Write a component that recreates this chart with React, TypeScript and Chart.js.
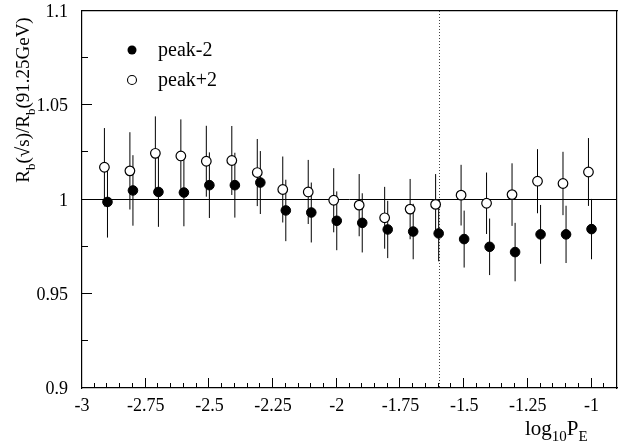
import React, { useEffect, useRef } from "react";
import { Chart, registerables } from "chart.js";

Chart.register(...registerables);

const FONT = "'Liberation Serif', 'DejaVu Serif', serif";

// x axis ticks and labels
const xTickValues = [-3, -2.75, -2.5, -2.25, -2, -1.75, -1.5, -1.25, -1];
const xTickLabels = ["-3", "-2.75", "-2.5", "-2.25", "-2", "-1.75", "-1.5", "-1.25", "-1"];
const yTickValues = [0.9, 0.95, 1, 1.05, 1.1];
const yTickLabels = ["0.9", "0.95", "1", "1.05", "1.1"];

// peak-2 (filled)
const xPeakMinus = [-2.9, -2.8, -2.7, -2.6, -2.5, -2.4, -2.3, -2.2, -2.1, -2.0, -1.9, -1.8, -1.7, -1.6, -1.5, -1.4, -1.3, -1.2, -1.1, -1.0];
const yPeakMinus = [0.9987, 1.0048, 1.004, 1.0037, 1.0076, 1.0076, 1.009, 0.9942, 0.9931, 0.9887, 0.9876, 0.9841, 0.983, 0.982, 0.979, 0.9749, 0.9721, 0.9815, 0.9815, 0.9843];
const ePeakMinus = [0.0189, 0.0187, 0.0185, 0.0179, 0.0174, 0.0172, 0.0167, 0.0163, 0.0159, 0.0156, 0.0157, 0.0152, 0.0147, 0.0148, 0.0151, 0.015, 0.0155, 0.0156, 0.0152, 0.016];

// peak+2 (open)
const xPeakPlus = [-2.912, -2.812, -2.712, -2.612, -2.512, -2.412, -2.312, -2.212, -2.112, -2.012, -1.912, -1.812, -1.712, -1.612, -1.512, -1.412, -1.312, -1.212, -1.112, -1.012];
const yPeakPlus = [1.0171, 1.0152, 1.0245, 1.0231, 1.0203, 1.0207, 1.0143, 1.0053, 1.004, 0.9996, 0.997, 0.9903, 0.9949, 0.9974, 1.0023, 0.998, 1.0026, 1.0097, 1.0085, 1.0146];
const ePeakPlus = [0.0208, 0.0205, 0.0196, 0.0194, 0.0188, 0.0183, 0.0178, 0.0175, 0.017, 0.017, 0.0165, 0.0164, 0.016, 0.0161, 0.0161, 0.0163, 0.0166, 0.017, 0.0168, 0.018];

const referenceLine = 1;
const cutLine = -1.6;

const legendItems = ["peak-2", "peak+2"];

type Seg = { t: string; sub?: boolean };

function drawSegs(ctx: CanvasRenderingContext2D, segs: Seg[], x: number, y: number, size: number, align: "left" | "center") {
  const widths = segs.map((s) => {
    ctx.font = `${s.sub ? Math.round(size * 0.7) : size}px ${FONT}`;
    return ctx.measureText(s.t).width;
  });
  const total = widths.reduce((a, b) => a + b, 0);
  let cx = align === "center" ? x - total / 2 : x;
  ctx.textAlign = "left";
  ctx.textBaseline = "alphabetic";
  segs.forEach((s, i) => {
    ctx.font = `${s.sub ? Math.round(size * 0.7) : size}px ${FONT}`;
    ctx.fillText(s.t, cx, s.sub ? y + size * 0.3 : y);
    cx += widths[i];
  });
}

const paperPlugin = {
  id: "paper",
  beforeDatasetsDraw(chart: any) {
    const ctx: CanvasRenderingContext2D = chart.ctx;
    const a = chart.chartArea;
    const xs = chart.scales.x;
    const ys = chart.scales.y;
    ctx.save();
    ctx.strokeStyle = "#000";
    ctx.lineWidth = 1;
    // reference line at 1
    const yr = Math.round(ys.getPixelForValue(referenceLine)) - 0.5;
    ctx.beginPath();
    ctx.moveTo(a.left, yr);
    ctx.lineTo(a.right, yr);
    ctx.stroke();
    // x ticks (inward)
    for (let k = 0; k <= 42; k++) {
      const v = -3 + k * 0.05;
      if (v > -0.9 + 1e-9) break;
      const px = Math.round(xs.getPixelForValue(v)) - 0.5;
      const len = k % 5 === 0 ? 10 : 5;
      ctx.beginPath();
      ctx.moveTo(px, a.bottom);
      ctx.lineTo(px, a.bottom - len);
      ctx.stroke();
    }
    // y ticks (inward)
    for (let k = 0; k <= 8; k++) {
      const v = 0.9 + k * 0.025;
      const py = Math.round(ys.getPixelForValue(v)) - 0.5;
      const len = k % 2 === 0 ? 10 : 6;
      ctx.beginPath();
      ctx.moveTo(a.left, py);
      ctx.lineTo(a.left + len, py);
      ctx.stroke();
    }
    // dotted vertical line
    const xc = Math.round(xs.getPixelForValue(cutLine)) + 0.5;
    ctx.save();
    ctx.strokeStyle = "#444";
    ctx.setLineDash([1, 2]);
    ctx.beginPath();
    ctx.moveTo(xc, a.top);
    ctx.lineTo(xc, a.bottom);
    ctx.stroke();
    ctx.restore();
    // error bars
    const bars = (xv: number[], yv: number[], ev: number[]) => {
      xv.forEach((x, i) => {
        const px = xs.getPixelForValue(x);
        ctx.beginPath();
        ctx.moveTo(px, ys.getPixelForValue(yv[i] + ev[i]));
        ctx.lineTo(px, ys.getPixelForValue(yv[i] - ev[i]));
        ctx.stroke();
      });
    };
    bars(xPeakPlus, yPeakPlus, ePeakPlus);
    bars(xPeakMinus, yPeakMinus, ePeakMinus);
    ctx.restore();
  },
  afterDraw(chart: any) {
    const ctx: CanvasRenderingContext2D = chart.ctx;
    const xs = chart.scales.x;
    const ys = chart.scales.y;
    ctx.save();
    ctx.fillStyle = "#000";
    // tick labels
    ctx.font = `18px ${FONT}`;
    ctx.textBaseline = "alphabetic";
    ctx.textAlign = "center";
    xTickValues.forEach((v, i) => {
      ctx.fillText(xTickLabels[i], xs.getPixelForValue(v), 411);
    });
    ctx.textAlign = "right";
    yTickValues.forEach((v, i) => {
      ctx.fillText(yTickLabels[i], 68, ys.getPixelForValue(v) + 6);
    });
    // legend
    const lx = 132;
    const rows = [50, 80];
    legendItems.forEach((label, i) => {
      ctx.beginPath();
      ctx.arc(lx, rows[i], 4.5, 0, Math.PI * 2);
      if (i === 0) {
        ctx.fillStyle = "#000";
        ctx.fill();
      } else {
        ctx.fillStyle = "#fff";
        ctx.fill();
        ctx.strokeStyle = "#000";
        ctx.lineWidth = 1.1;
        ctx.stroke();
      }
      ctx.fillStyle = "#000";
      ctx.font = `20px ${FONT}`;
      ctx.textAlign = "left";
      ctx.textBaseline = "alphabetic";
      ctx.fillText(label, 158, rows[i] + 6);
    });
    // x title
    drawSegs(ctx, [{ t: "log" }, { t: "10", sub: true }, { t: "P" }, { t: "E", sub: true }], 525, 435, 21, "left");
    // y title
    ctx.save();
    ctx.translate(29, 100);
    ctx.rotate(-Math.PI / 2);
    drawSegs(
      ctx,
      [{ t: "R" }, { t: "b", sub: true }, { t: "(\u221As)/R" }, { t: "b", sub: true }, { t: "(91.25GeV)" }],
      0,
      0,
      19,
      "center"
    );
    ctx.restore();
    ctx.restore();
  },
};

const frameBorder = { display: true, color: "#000", width: 1.2 };

export default function App() {
  const ref = useRef<HTMLCanvasElement>(null);
  useEffect(() => {
    const canvas = ref.current;
    if (!canvas) return;
    const chart = new Chart(canvas, {
      type: "scatter",
      data: {
        datasets: [
          {
            label: "peak-2",
            data: xPeakMinus.map((x, i) => ({ x, y: yPeakMinus[i] })),
            pointRadius: 4.8,
            pointBackgroundColor: "#000",
            pointBorderColor: "#000",
            pointBorderWidth: 1,
            order: 0,
          },
          {
            label: "peak+2",
            data: xPeakPlus.map((x, i) => ({ x, y: yPeakPlus[i] })),
            pointRadius: 4.8,
            pointBackgroundColor: "#fff",
            pointBorderColor: "#000",
            pointBorderWidth: 1.2,
            order: 1,
          },
        ],
      },
      options: {
        responsive: false,
        animation: false,
        events: [],
        layout: { autoPadding: false, padding: { top: 11, right: 1, left: 0, bottom: 0 } },
        plugins: { legend: { display: false }, tooltip: { enabled: false } },
        scales: {
          x: {
            type: "linear",
            position: "bottom",
            min: -3,
            max: -0.9,
            afterFit: (s: any) => {
              s.height = 54;
            },
            grid: { display: false, drawOnChartArea: false, drawTicks: false },
            border: frameBorder,
            ticks: { display: false },
          },
          x2: {
            type: "linear",
            position: "top",
            display: true,
            min: -3,
            max: -0.9,
            afterFit: (s: any) => {
              s.height = 0;
            },
            grid: { display: false, drawOnChartArea: false, drawTicks: false },
            border: frameBorder,
            ticks: { display: false },
          },
          y: {
            type: "linear",
            position: "left",
            min: 0.9,
            max: 1.1,
            afterFit: (s: any) => {
              s.width = 82;
            },
            grid: { display: false, drawOnChartArea: false, drawTicks: false },
            border: frameBorder,
            ticks: { display: false },
          },
          y2: {
            type: "linear",
            position: "right",
            display: true,
            min: 0.9,
            max: 1.1,
            afterFit: (s: any) => {
              s.width = 0;
            },
            grid: { display: false, drawOnChartArea: false, drawTicks: false },
            border: frameBorder,
            ticks: { display: false },
          },
        },
      },
      plugins: [paperPlugin],
    } as any);
    return () => chart.destroy();
  }, []);
  return (
    <div style={{ position: "absolute", left: 0, top: 0, width: 618, height: 442, background: "#fff" }}>
      <canvas ref={ref} width={618} height={442} style={{ display: "block" }} />
    </div>
  );
}
